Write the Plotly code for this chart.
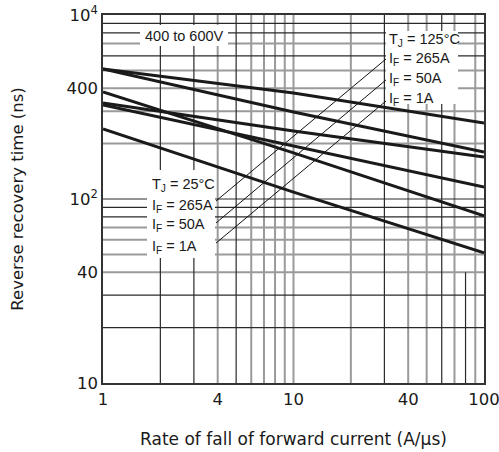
import plotly.graph_objects as go

# ---- data (log-log) ----
rate = [1, 10, 100]  # A/us
trr_125C_265A = [509, 377, 259]
trr_125C_50A = [509, 297, 180]
trr_125C_1A = [333, 234, 169]
trr_25C_265A = [324, 194, 116]
trr_25C_50A = [382, 178, 81]
trr_25C_1A = [240, 109, 51]

x_ticks = [1, 4, 10, 40, 100]
x_ticktext = ["1", "4", "10", "40", "100"]
y_ticks = [10, 40, 100, 400, 1000]
y_ticktext = ["10", "40", "10<sup>2</sup>", "400", "10<sup>4</sup>"]

grid_x_dark = [2, 3, 5, 30, 60]
grid_x_gray = [4, 6, 7, 8, 9, 10, 20, 40, 50, 70, 90]
grid_y_dark = [20, 30, 80, 90, 100, 600, 800, 900]
grid_y_gray = [40, 50, 60, 70, 200, 300, 400, 500, 700]

# leader lines (data coords): from 25°C label box to 125°C label box
leader_x = [3.92, 30.6]
leader_1 = [97.5, 577]
leader_2 = [74.1, 444]
leader_3 = [57.6, 341]

W, H = 499, 452
ML, MR, MT, MB = 103, 15, 15, 69
PW, PH = W - ML - MR, H - MT - MB


def px(xp):
    return (xp - ML) / PW


def py(yp):
    return 1 - (yp - MT) / PH


fig = go.Figure()

DARK = "#2a2a2a"
GRAY = "#9a9a9a"
shapes = []
for v in grid_x_gray:
    shapes.append(dict(type="line", xref="x", yref="paper", x0=v, x1=v, y0=0, y1=1,
                       line=dict(color=GRAY, width=2), layer="below"))
for v in grid_y_gray:
    shapes.append(dict(type="line", xref="paper", yref="y", x0=0, x1=1, y0=v, y1=v,
                       line=dict(color=GRAY, width=2), layer="below"))
for v in grid_x_dark:
    shapes.append(dict(type="line", xref="x", yref="paper", x0=v, x1=v, y0=0, y1=1,
                       line=dict(color=DARK, width=1.2), layer="below"))
for v in grid_y_dark:
    shapes.append(dict(type="line", xref="paper", yref="y", x0=0, x1=1, y0=v, y1=v,
                       line=dict(color=DARK, width=1.2), layer="below"))
# partial grid line at 80
shapes.append(dict(type="line", xref="x", yref="y", x0=80, x1=80, y0=10, y1=40,
                   line=dict(color=DARK, width=1.2), layer="below"))

for ly in (leader_1, leader_2, leader_3):
    fig.add_trace(go.Scatter(x=leader_x, y=ly, mode="lines",
                             line=dict(color="#111", width=1), hoverinfo="skip", showlegend=False))

for ys in (trr_125C_265A, trr_125C_50A, trr_125C_1A, trr_25C_265A, trr_25C_50A, trr_25C_1A):
    fig.add_trace(go.Scatter(x=rate, y=ys, mode="lines",
                             line=dict(color="#1a1a1a", width=3), showlegend=False))

# white label boxes
boxes = [(140, 25, 228, 46), (147, 170, 215, 258), (386, 31, 458, 104)]
for x0, y0, x1, y1 in boxes:
    shapes.append(dict(type="rect", xref="paper", yref="paper", x0=px(x0), x1=px(x1),
                       y0=py(y1), y1=py(y0), fillcolor="white", line=dict(width=0), layer="above"))

AFONT = dict(family="Liberation Sans, Arial", size=14.5, color="#1a1a1a")
annotations = [dict(xref="paper", yref="paper", x=px(184), y=py(36), text="400 to 600V",
                    showarrow=False, font=AFONT, xanchor="center", yanchor="middle")]
left_lines = [("T<sub>J</sub> = 25°C", 185), ("I<sub>F</sub> = 265A", 206),
              ("I<sub>F</sub> = 50A", 225), ("I<sub>F</sub> = 1A", 247)]
right_lines = [("T<sub>J</sub> = 125°C", 40), ("I<sub>F</sub> = 265A", 59),
               ("I<sub>F</sub> = 50A", 79), ("I<sub>F</sub> = 1A", 99)]
for t, yy in left_lines:
    annotations.append(dict(xref="paper", yref="paper", x=px(150), y=py(yy), text=t,
                            showarrow=False, font=AFONT, xanchor="left", yanchor="middle"))
for t, yy in right_lines:
    annotations.append(dict(xref="paper", yref="paper", x=px(387), y=py(yy), text=t,
                            showarrow=False, font=AFONT, xanchor="left", yanchor="middle"))

TFONT = dict(family="DejaVu Sans", size=16.5, color="#1a1a1a")
fig.update_layout(
    width=W, height=H,
    margin=dict(l=ML, r=MR, t=MT, b=MB),
    paper_bgcolor="white", plot_bgcolor="white",
    shapes=shapes, annotations=annotations,
    xaxis=dict(type="log", range=[0, 2], tickvals=x_ticks, ticktext=x_ticktext,
               showgrid=False, zeroline=False, showline=True, mirror=True,
               linecolor="#333", linewidth=1.5, ticks="", tickfont=TFONT,
               ticklabeloverflow="allow", automargin=False,
               title=dict(text="Rate of fall of forward current (A/µs)",
                          font=dict(family="DejaVu Sans", size=17, color="#1a1a1a"), standoff=26)),
    yaxis=dict(type="log", range=[1, 3], tickvals=y_ticks, ticktext=y_ticktext,
               showgrid=False, zeroline=False, showline=True, mirror=True,
               linecolor="#333", linewidth=1.5, ticks="", tickfont=TFONT,
               ticklabeloverflow="allow", automargin=False,
               title=dict(text="Reverse recovery time (ns)",
                          font=dict(family="DejaVu Sans", size=16.5, color="#1a1a1a"), standoff=39)),
)

fig.write_html("out.html", config={"displayModeBar": False},
               post_script="document.body.style.margin='0px';")
